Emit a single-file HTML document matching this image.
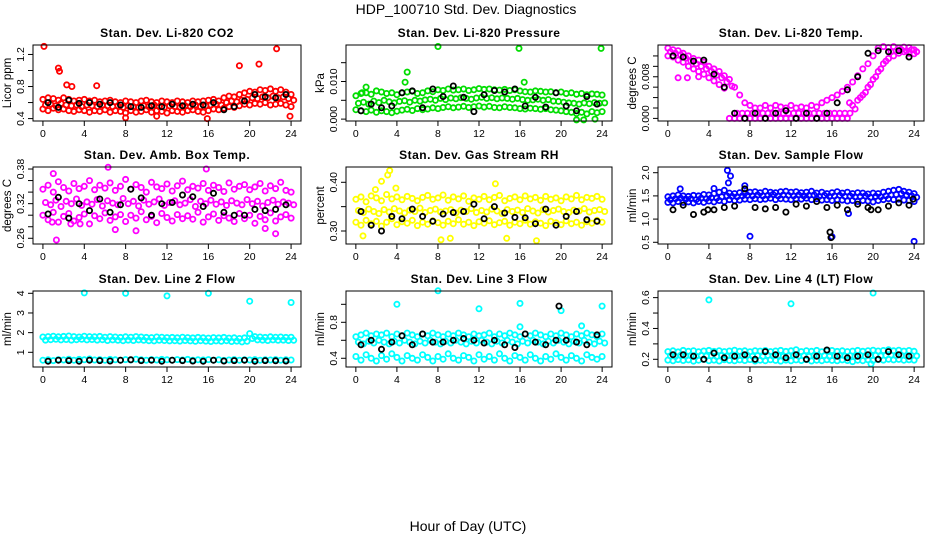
<!DOCTYPE html>
<html><head><meta charset="utf-8"><style>
html,body{margin:0;padding:0;background:#fff;}
svg{display:block;font-family:"Liberation Sans",sans-serif;}
</style></head><body>
<svg id="chart" width="936" height="540" viewBox="0 0 936 540" xmlns="http://www.w3.org/2000/svg">
<text x="466" y="14" font-size="14" text-anchor="middle">HDP_100710  Std. Dev. Diagnostics</text>
<text x="468" y="531" font-size="14" text-anchor="middle">Hour of Day (UTC)</text>
</svg>
<script>
// ---- data ----
const p1A=[0.64,0.66,0.65,0.63,0.66,0.64,0.62,0.63,0.64,0.62,0.63,0.61,0.62,0.63,0.61,0.60,0.62,0.61,0.60,0.62,0.63,0.61,0.60,0.62,0.61,0.60,0.62,0.61,0.60,0.62,0.61,0.62,0.63,0.64,0.62,0.66,0.68,0.67,0.70,0.72,0.74,0.73,0.76,0.75,0.77,0.74,0.76,0.73,0.70];
const p1B=[0.52,0.50,0.53,0.51,0.52,0.50,0.49,0.51,0.50,0.48,0.50,0.49,0.51,0.48,0.50,0.49,0.47,0.50,0.48,0.49,0.51,0.48,0.50,0.49,0.47,0.50,0.49,0.48,0.50,0.51,0.49,0.48,0.50,0.52,0.51,0.53,0.55,0.54,0.56,0.58,0.57,0.59,0.58,0.60,0.57,0.58,0.59,0.57,0.55];
const p1C=[0.57,0.58,0.56,0.59,0.57,0.56,0.57,0.55,0.57,0.56,0.55,0.57,0.56,0.55,0.56,0.54,0.56,0.55,0.54,0.56,0.55,0.57,0.55,0.54,0.56,0.55,0.54,0.56,0.55,0.57,0.55,0.56,0.57,0.58,0.57,0.60,0.62,0.61,0.63,0.64,0.66,0.65,0.67,0.66,0.68,0.66,0.67,0.65,0.63];
const p1K=[0.60,0.54,0.63,0.59,0.60,0.58,0.60,0.57,0.55,0.54,0.56,0.55,0.58,0.56,0.58,0.57,0.60,0.51,0.55,0.62,0.70,0.67,0.66,0.70];
const p1OH=[0.1,1.5,1.6,2.3,2.8,5.2,8.0,11.0,15.9,19.0,20.9,22.6,23.9];
const p1OV=[1.3,1.03,0.99,0.82,0.80,0.81,0.41,0.43,0.40,1.06,1.08,1.27,0.43];

const p2A=[0.0062,0.0068,0.0070,0.0066,0.0075,0.0072,0.0068,0.0070,0.0065,0.0070,0.0072,0.0074,0.0068,0.0070,0.0075,0.0073,0.0078,0.0076,0.0080,0.0077,0.0078,0.0080,0.0076,0.0078,0.0081,0.0079,0.0080,0.0078,0.0077,0.0079,0.0076,0.0078,0.0075,0.0073,0.0072,0.0075,0.0074,0.0072,0.0073,0.0070,0.0072,0.0068,0.0070,0.0066,0.0068,0.0065,0.0067,0.0066,0.0064];
const p2B=[0.0025,0.0022,0.0020,0.0024,0.0018,0.0022,0.0020,0.0017,0.0021,0.0024,0.0026,0.0023,0.0028,0.0025,0.0027,0.0030,0.0028,0.0031,0.0033,0.0030,0.0032,0.0034,0.0031,0.0033,0.0035,0.0032,0.0034,0.0031,0.0030,0.0033,0.0031,0.0030,0.0028,0.0027,0.0029,0.0028,0.0026,0.0028,0.0025,0.0024,0.0022,0.0020,0.0018,0.0015,0.0018,0.0014,0.0020,0.0017,0.0020];
const p2C=[0.0042,0.0045,0.0040,0.0048,0.0044,0.0050,0.0046,0.0043,0.0047,0.0049,0.0045,0.0050,0.0048,0.0051,0.0053,0.0050,0.0055,0.0052,0.0056,0.0054,0.0057,0.0055,0.0053,0.0056,0.0058,0.0055,0.0057,0.0054,0.0056,0.0055,0.0053,0.0055,0.0052,0.0050,0.0051,0.0053,0.0050,0.0052,0.0048,0.0047,0.0045,0.0043,0.0042,0.0040,0.0043,0.0041,0.0044,0.0042,0.0043];
const p2K=[0.0022,0.0040,0.0030,0.0035,0.0070,0.0075,0.0030,0.0080,0.0060,0.0088,0.0058,0.0020,0.0065,0.0076,0.0072,0.0080,0.0035,0.0058,0.0032,0.0070,0.0035,0.0022,0.0060,0.0040];
const p2OH=[0.6,1.0,4.8,5.0,8.0,15.9,16.4,21.5,22.2,23.3,23.9];
const p2OV=[0.007,0.0085,0.0098,0.0125,0.0193,0.0188,0.0098,-0.0002,-0.0002,0.0,0.0188];

const p3A=[0.0135,0.0132,0.0130,0.0125,0.0120,0.0115,0.0112,0.0108,0.0100,0.0095,0.0090,0.0082,0.0075,0.0060,0.0045,0.0030,0.0025,0.0020,0.0020,0.0025,0.0020,0.0025,0.0022,0.0020,0.0025,0.0020,0.0022,0.0020,0.0025,0.0022,0.0030,0.0035,0.0040,0.0045,0.0052,0.0060,0.0070,0.0082,0.0095,0.0105,0.0120,0.0135,0.0138,0.0136,0.0138,0.0135,0.0137,0.0136,0.0132];
const p3B=[0.0120,0.0118,0.0112,0.0108,0.0100,0.0095,0.0090,0.0085,0.0078,0.0072,0.0065,0.0058,0,0,0,0,0,0,0,0,0,0,0,0,0,0,0,0,0,0,0,0,0,0,0,0,0.0025,0.0035,0.0045,0.0060,0.0075,0.0090,0.0105,0.0115,0.0120,0.0125,0.0128,0.0125,0.0124];
const p3C=[0.0128,0.0125,0.0122,0.0116,0.0110,0.0105,0.0100,0.0095,0.0090,0.0083,0.0078,0.0070,0.0062,0.001,0.001,0.001,0.001,0.001,0.001,0.001,0.001,0.001,0.001,0.001,0.001,0.001,0.001,0.001,0.001,0.001,0.001,0.001,0.001,0.001,0.001,0.001,0.0018,0.0040,0.0050,0.0065,0.0080,0.0095,0.0110,0.0128,0.0130,0.0132,0.0130,0.0132,0.0128];
const p3K=[0.0120,0.0118,0.0110,0.0112,0.0085,0.0060,0.0010,0.0000,0.0010,0.0000,0.0010,0.0015,0.0000,0.0010,0.0000,0.0010,0.0030,0.0055,0.0080,0.0125,0.0130,0.0128,0.0130,0.0118];
const p3OH=[1.0,1.9,3.0,17.7];
const p3OV=[0.0078,0.0078,0.0080,0.0030];

const p4A=[0.345,0.352,0.340,0.358,0.348,0.342,0.355,0.346,0.350,0.360,0.344,0.352,0.347,0.356,0.343,0.350,0.362,0.345,0.353,0.348,0.340,0.357,0.349,0.346,0.354,0.342,0.351,0.359,0.344,0.350,0.347,0.355,0.343,0.352,0.348,0.341,0.356,0.345,0.350,0.353,0.344,0.349,0.355,0.342,0.351,0.346,0.357,0.343,0.340];
const p4B=[0.300,0.292,0.305,0.288,0.298,0.303,0.290,0.296,0.302,0.285,0.299,0.294,0.304,0.291,0.297,0.301,0.289,0.300,0.295,0.306,0.292,0.298,0.287,0.303,0.296,0.290,0.301,0.294,0.299,0.293,0.305,0.288,0.297,0.302,0.291,0.299,0.295,0.289,0.303,0.294,0.300,0.286,0.298,0.292,0.304,0.290,0.297,0.301,0.295];
const p4C=[0.322,0.318,0.326,0.315,0.324,0.320,0.328,0.317,0.323,0.319,0.327,0.316,0.325,0.321,0.318,0.329,0.320,0.324,0.316,0.326,0.319,0.323,0.328,0.317,0.322,0.325,0.318,0.321,0.327,0.315,0.324,0.320,0.326,0.319,0.323,0.317,0.325,0.321,0.318,0.327,0.320,0.324,0.316,0.322,0.326,0.319,0.323,0.321,0.318];
const p4K=[0.302,0.331,0.295,0.320,0.308,0.328,0.305,0.318,0.345,0.330,0.300,0.320,0.322,0.335,0.332,0.315,0.338,0.305,0.300,0.300,0.310,0.308,0.310,0.318];
const p4OH=[1.3,1.0,6.3,7.0,9.0,15.8,21.5,22.5,2.7,3.6,0.9];
const p4OV=[0.257,0.372,0.383,0.275,0.273,0.380,0.277,0.268,0.285,0.285,0.288];

const p5A=[0.365,0.370,0.360,0.372,0.368,0.362,0.375,0.366,0.370,0.364,0.371,0.367,0.362,0.369,0.373,0.365,0.368,0.374,0.363,0.370,0.366,0.372,0.361,0.368,0.365,0.371,0.364,0.369,0.373,0.362,0.367,0.370,0.364,0.372,0.366,0.369,0.363,0.371,0.365,0.368,0.362,0.370,0.366,0.373,0.364,0.369,0.367,0.371,0.365];
const p5B=[0.318,0.312,0.322,0.315,0.320,0.310,0.318,0.325,0.313,0.319,0.316,0.322,0.311,0.318,0.314,0.321,0.317,0.312,0.320,0.315,0.323,0.314,0.318,0.311,0.319,0.316,0.321,0.313,0.317,0.320,0.312,0.318,0.315,0.322,0.314,0.319,0.316,0.311,0.320,0.317,0.313,0.321,0.315,0.318,0.312,0.319,0.316,0.322,0.318];
const p5C=[0.342,0.338,0.345,0.340,0.336,0.344,0.339,0.346,0.341,0.337,0.343,0.340,0.347,0.338,0.342,0.345,0.339,0.341,0.344,0.337,0.343,0.340,0.346,0.338,0.342,0.339,0.345,0.341,0.336,0.344,0.340,0.343,0.338,0.346,0.341,0.337,0.344,0.339,0.342,0.345,0.340,0.338,0.343,0.341,0.346,0.339,0.342,0.344,0.340];
const p5K=[0.340,0.312,0.300,0.330,0.325,0.345,0.330,0.320,0.335,0.338,0.340,0.355,0.325,0.350,0.337,0.328,0.327,0.315,0.345,0.312,0.330,0.340,0.323,0.320];
const p5OH=[3.3,3.1,2.5,0.7,8.3,9.2,13.6,14.7,17.6,3.9,1.9];
const p5OV=[0.424,0.415,0.402,0.290,0.282,0.285,0.397,0.285,0.280,0.388,0.385];

const p6A=[1.48,1.50,1.52,1.50,1.49,1.51,1.50,1.53,1.52,1.55,1.58,1.62,1.56,1.55,1.57,1.56,1.58,1.59,1.57,1.60,1.58,1.57,1.59,1.60,1.58,1.59,1.57,1.58,1.60,1.56,1.58,1.55,1.57,1.59,1.56,1.58,1.55,1.57,1.56,1.54,1.56,1.55,1.58,1.60,1.62,1.64,1.60,1.58,1.55];
const p6B=[1.36,1.35,1.38,1.36,1.37,1.35,1.38,1.36,1.39,1.37,1.40,1.38,1.42,1.40,1.41,1.43,1.42,1.44,1.42,1.43,1.45,1.42,1.44,1.43,1.42,1.44,1.43,1.45,1.42,1.44,1.41,1.42,1.40,1.42,1.41,1.39,1.40,1.38,1.40,1.39,1.37,1.40,1.42,1.44,1.42,1.43,1.41,1.40,1.38];
const p6C=[1.42,1.44,1.45,1.43,1.44,1.42,1.45,1.44,1.46,1.45,1.48,1.50,1.49,1.48,1.50,1.51,1.50,1.52,1.50,1.51,1.53,1.50,1.52,1.51,1.50,1.52,1.50,1.51,1.52,1.49,1.51,1.49,1.50,1.51,1.49,1.50,1.48,1.49,1.50,1.47,1.49,1.48,1.50,1.52,1.53,1.55,1.52,1.50,1.47];
const p6K=[1.20,1.30,1.10,1.15,1.20,1.25,1.28,1.65,1.25,1.22,1.25,1.15,1.32,1.28,1.38,1.25,1.30,1.20,1.32,1.25,1.20,1.28,1.35,1.30];
const p6KXH=[15.8,15.9,23.9,3.9,19.8];
const p6KXV=[0.72,0.60,1.43,1.20,1.20];
const p6OH=[5.8,5.9,6.1,8.0,16.0,24.0,7.5,17.6,1.2,4.5];
const p6OV=[2.05,1.78,1.93,0.63,0.62,0.52,1.72,1.12,1.65,1.66];

const p7A=[1.78,1.80,1.82,1.79,1.81,1.83,1.80,1.78,1.82,1.80,1.79,1.81,1.77,1.80,1.78,1.76,1.79,1.77,1.80,1.78,1.76,1.75,1.78,1.77,1.75,1.76,1.74,1.77,1.75,1.73,1.76,1.74,1.72,1.75,1.73,1.76,1.72,1.74,1.70,1.73,1.95,1.80,1.78,1.76,1.79,1.77,1.78,1.76,1.77];
const p7B=[0.60,0.62,0.58,0.63,0.61,0.65,0.60,0.64,0.62,0.66,0.61,0.63,0.60,0.64,0.62,0.60,0.63,0.61,0.65,0.62,0.60,0.63,0.61,0.64,0.62,0.60,0.63,0.61,0.64,0.60,0.62,0.61,0.63,0.60,0.62,0.59,0.61,0.63,0.60,0.62,0.61,0.63,0.60,0.62,0.61,0.63,0.60,0.62,0.61];
const p7C=[1.62,1.64,1.66,1.63,1.65,1.62,1.64,1.66,1.63,1.65,1.62,1.64,1.60,1.63,1.61,1.59,1.62,1.60,1.63,1.61,1.59,1.58,1.61,1.60,1.58,1.59,1.57,1.60,1.58,1.56,1.59,1.57,1.55,1.58,1.56,1.59,1.55,1.57,1.53,1.56,1.70,1.63,1.62,1.60,1.63,1.61,1.62,1.60,1.61];
const p7K=[0.55,0.60,0.58,0.55,0.60,0.58,0.56,0.60,0.62,0.58,0.60,0.55,0.60,0.58,0.56,0.55,0.60,0.56,0.58,0.60,0.55,0.58,0.57,0.56];
const p7OH=[4.0,8.0,12.0,16.0,20.0,24.0];
const p7OV=[4.02,4.0,3.87,4.0,3.6,3.53];

const p8A=[0.64,0.66,0.68,0.65,0.67,0.66,0.68,0.64,0.67,0.65,0.68,0.66,0.64,0.67,0.65,0.68,0.66,0.64,0.67,0.65,0.68,0.66,0.64,0.67,0.65,0.66,0.68,0.64,0.67,0.65,0.68,0.66,0.64,0.67,0.65,0.68,0.66,0.64,0.67,0.65,0.68,0.66,0.64,0.67,0.65,0.68,0.66,0.64,0.67];
const p8B=[0.42,0.38,0.44,0.40,0.37,0.43,0.39,0.45,0.41,0.37,0.43,0.40,0.38,0.44,0.41,0.37,0.42,0.39,0.45,0.40,0.38,0.43,0.41,0.37,0.44,0.39,0.42,0.38,0.45,0.40,0.37,0.43,0.41,0.38,0.44,0.40,0.37,0.42,0.39,0.45,0.41,0.38,0.43,0.40,0.37,0.44,0.41,0.39,0.42];
const p8C=[0.58,0.56,0.59,0.57,0.60,0.58,0.56,0.59,0.57,0.60,0.58,0.56,0.59,0.57,0.60,0.58,0.56,0.59,0.57,0.60,0.58,0.56,0.59,0.57,0.60,0.58,0.56,0.59,0.57,0.60,0.58,0.56,0.59,0.57,0.60,0.58,0.56,0.59,0.57,0.60,0.58,0.56,0.59,0.57,0.60,0.58,0.56,0.59,0.57];
const p8K=[0.55,0.60,0.50,0.58,0.65,0.55,0.67,0.58,0.58,0.60,0.62,0.60,0.57,0.60,0.55,0.52,0.67,0.58,0.55,0.60,0.60,0.58,0.55,0.66];
const p8KXH=[19.8];
const p8KXV=[0.98];
const p8OH=[4.0,8.0,12.0,16.0,20.0,24.0,16.0,22.0];
const p8OV=[1.0,1.15,0.95,1.01,0.93,0.98,0.75,0.76];

const p9A=[0.250,0.255,0.248,0.258,0.252,0.256,0.249,0.254,0.258,0.251,0.256,0.250,0.254,0.259,0.252,0.255,0.249,0.256,0.253,0.257,0.250,0.254,0.258,0.251,0.255,0.262,0.250,0.256,0.252,0.258,0.249,0.254,0.257,0.251,0.255,0.250,0.253,0.258,0.252,0.256,0.259,0.254,0.257,0.262,0.255,0.259,0.253,0.257,0.252];
const p9B=[0.195,0.190,0.198,0.192,0.196,0.188,0.194,0.199,0.191,0.195,0.189,0.197,0.193,0.190,0.196,0.192,0.198,0.189,0.194,0.191,0.197,0.193,0.188,0.195,0.190,0.196,0.192,0.198,0.189,0.194,0.191,0.197,0.193,0.190,0.196,0.192,0.185,0.194,0.191,0.197,0.193,0.198,0.195,0.200,0.196,0.199,0.194,0.197,0.195];
const p9C=[0.222,0.218,0.225,0.220,0.224,0.219,0.226,0.221,0.223,0.218,0.225,0.220,0.224,0.219,0.222,0.226,0.220,0.223,0.218,0.225,0.221,0.224,0.219,0.222,0.226,0.220,0.223,0.218,0.225,0.221,0.224,0.219,0.222,0.226,0.220,0.223,0.218,0.225,0.221,0.224,0.226,0.222,0.225,0.228,0.223,0.226,0.221,0.224,0.222];
const p9K=[0.23,0.23,0.22,0.20,0.24,0.21,0.22,0.23,0.20,0.25,0.23,0.21,0.23,0.20,0.22,0.26,0.22,0.21,0.22,0.23,0.20,0.25,0.23,0.22];
const p9OH=[4.0,12.0,20.0,19.8];
const p9OV=[0.585,0.56,0.63,0.17];

const hourTicks=[0,4,8,12,16,20,24];
const colorHours=[0,0.5,1,1.5,2,2.5,3,3.5,4,4.5,5,5.5,6,6.5,7,7.5,8,8.5,9,9.5,10,10.5,11,11.5,12,12.5,13,13.5,14,14.5,15,15.5,16,16.5,17,17.5,18,18.5,19,19.5,20,20.5,21,21.5,22,22.5,23,23.5,24];
const blackHours=[0.5,1.5,2.5,3.5,4.5,5.5,6.5,7.5,8.5,9.5,10.5,11.5,12.5,13.5,14.5,15.5,16.5,17.5,18.5,19.5,20.5,21.5,22.5,23.5];

const titles=["Stan. Dev. Li-820 CO2","Stan. Dev. Li-820 Pressure","Stan. Dev. Li-820 Temp.","Stan. Dev. Amb. Box Temp.","Stan. Dev. Gas Stream RH","Stan. Dev. Sample Flow","Stan. Dev. Line 2 Flow","Stan. Dev. Line 3 Flow","Stan. Dev. Line 4 (LT) Flow"];
const ylabels=["Licor ppm","kPa","degrees C","degrees C","percent","ml/min","ml/min","ml/min","ml/min"];
const yTicks=[[0.4,0.6,0.8,1.0,1.2],[0,0.005,0.01,0.015],[0,0.002,0.004,0.006,0.008,0.010,0.012],[0.26,0.28,0.30,0.32,0.34,0.36,0.38],[0.30,0.35,0.40],[0.5,1.0,1.5,2.0],[1,2,3,4],[0.4,0.6,0.8,1.0],[0.2,0.3,0.4,0.5,0.6]];
const yTickLabels=[["0.4","","0.8","","1.2"],["0.000","","0.010",""],["0.000","","","","0.008","",""],["0.26","","","0.32","","","0.38"],["0.30","","0.40"],["0.5","1.0","1.5","2.0"],["1","2","3","4"],["0.4","","0.8",""],["0.2","","0.4","","0.6"]];
const yDomains=[[0.37,1.318],[-0.0005,0.0197],[-0.0005,0.0141],[0.2501,0.3835],[0.2733,0.4314],[0.463,2.123],[0.253,4.117],[0.303,1.148],[0.15,0.643]];
const colors=["#ff0000","#00dd00","#ff00ff","#ff00ff","#ffff00","#0000ff","#00ffff","#00ffff","#00ffff"];
const seriesA=[p1A,p2A,p3A,p4A,p5A,p6A,p7A,p8A,p9A];
const seriesB=[p1B,p2B,p3B,p4B,p5B,p6B,p7B,p8B,p9B];
const seriesC=[p1C,p2C,p3C,p4C,p5C,p6C,p7C,p8C,p9C];
const seriesK=[p1K,p2K,p3K,p4K,p5K,p6K,p7K,p8K,p9K];
const outH=[p1OH,p2OH,p3OH,p4OH,p5OH,p6OH,p7OH,p8OH,p9OH];
const outV=[p1OV,p2OV,p3OV,p4OV,p5OV,p6OV,p7OV,p8OV,p9OV];
const extraKH=[[],[],[],[],[],p6KXH,[],p8KXH,[]];
const extraKV=[[],[],[],[],[],p6KXV,[],p8KXV,[]];

// ---- layout ----
const NS="http://www.w3.org/2000/svg";
const svg=document.getElementById('chart');
const colX=[[33,301],[346,612],[658,924]];
const rowY=[[45,121],[167,244],[291,367]];
const xDom=[-0.96,24.96];
function mk(tag,attrs,parent){const e=document.createElementNS(NS,tag);for(const k in attrs)e.setAttribute(k,attrs[k]);(parent||svg).appendChild(e);return e;}

for(let p=0;p<9;p++){
  const [x0,x1]=colX[p%3],[y0,y1]=rowY[Math.floor(p/3)];
  const g=mk('g',{});
  
  
  const xs=h=>x0+(h-xDom[0])/(xDom[1]-xDom[0])*(x1-x0);
  const yd=yDomains[p];
  const ys=v=>y1-(v-yd[0])/(yd[1]-yd[0])*(y1-y0);
  const cx=(x0+x1)/2;
  const t=mk('text',{x:cx,y:y0-8,'font-size':12,'font-weight':'bold','letter-spacing':'0.5','text-anchor':'middle'},g);
  t.textContent=titles[p];
  
  
  const yl=mk('text',{x:0,y:0,'font-size':11.5,'text-anchor':'middle',transform:`translate(${x0-22},${(y0+y1)/2}) rotate(-90)`},g);
  yl.textContent=ylabels[p];
  
  
  const pts=mk('g',{fill:'none','stroke-width':1.8},g);
  
  
  const dot=(h,v,col)=>{const c=mk('circle',{cx:xs(h).toFixed(1),cy:ys(v).toFixed(1),r:2.6,stroke:col},pts);
    
    };
  [seriesA[p],seriesC[p],seriesB[p]].forEach((arr,si)=>arr.forEach((v,i)=>dot(colorHours[i]+(si===1?0.25:0),v,colors[p])));
  outH[p].forEach((h,i)=>dot(h,outV[p][i],colors[p]));
  seriesK[p].forEach((v,i)=>dot(blackHours[i],v,'#000'));
  extraKH[p].forEach((h,i)=>dot(h,extraKV[p][i],'#000'));
  const box=mk('rect',{x:x0,y:y0,width:x1-x0,height:y1-y0,fill:'none',stroke:'#000','stroke-width':1},g);
  
  
  mk('line',{x1:xs(0),x2:xs(24),y1:y1,y2:y1,stroke:'#000'},g);
  hourTicks.forEach(h=>{
    mk('line',{x1:xs(h),x2:xs(h),y1:y1,y2:y1+5,stroke:'#000'},g);
    const tl=mk('text',{x:xs(h),y:y1+16,'font-size':10.5,'text-anchor':'middle'},g);
    tl.textContent=h;
    
    
  });
  yTicks[p].forEach((v,i)=>{
    const yy=ys(v);
    mk('line',{x1:x0-5,x2:x0,y1:yy,y2:yy,stroke:'#000'},g);
    const lab=yTickLabels[p][i];
    if(lab){const tl=mk('text',{x:0,y:0,'font-size':10.5,'text-anchor':'middle',transform:`translate(${x0-9},${yy}) rotate(-90)`},g);
      tl.textContent=lab;
      
      }
  });
}
</script>
</body></html>
